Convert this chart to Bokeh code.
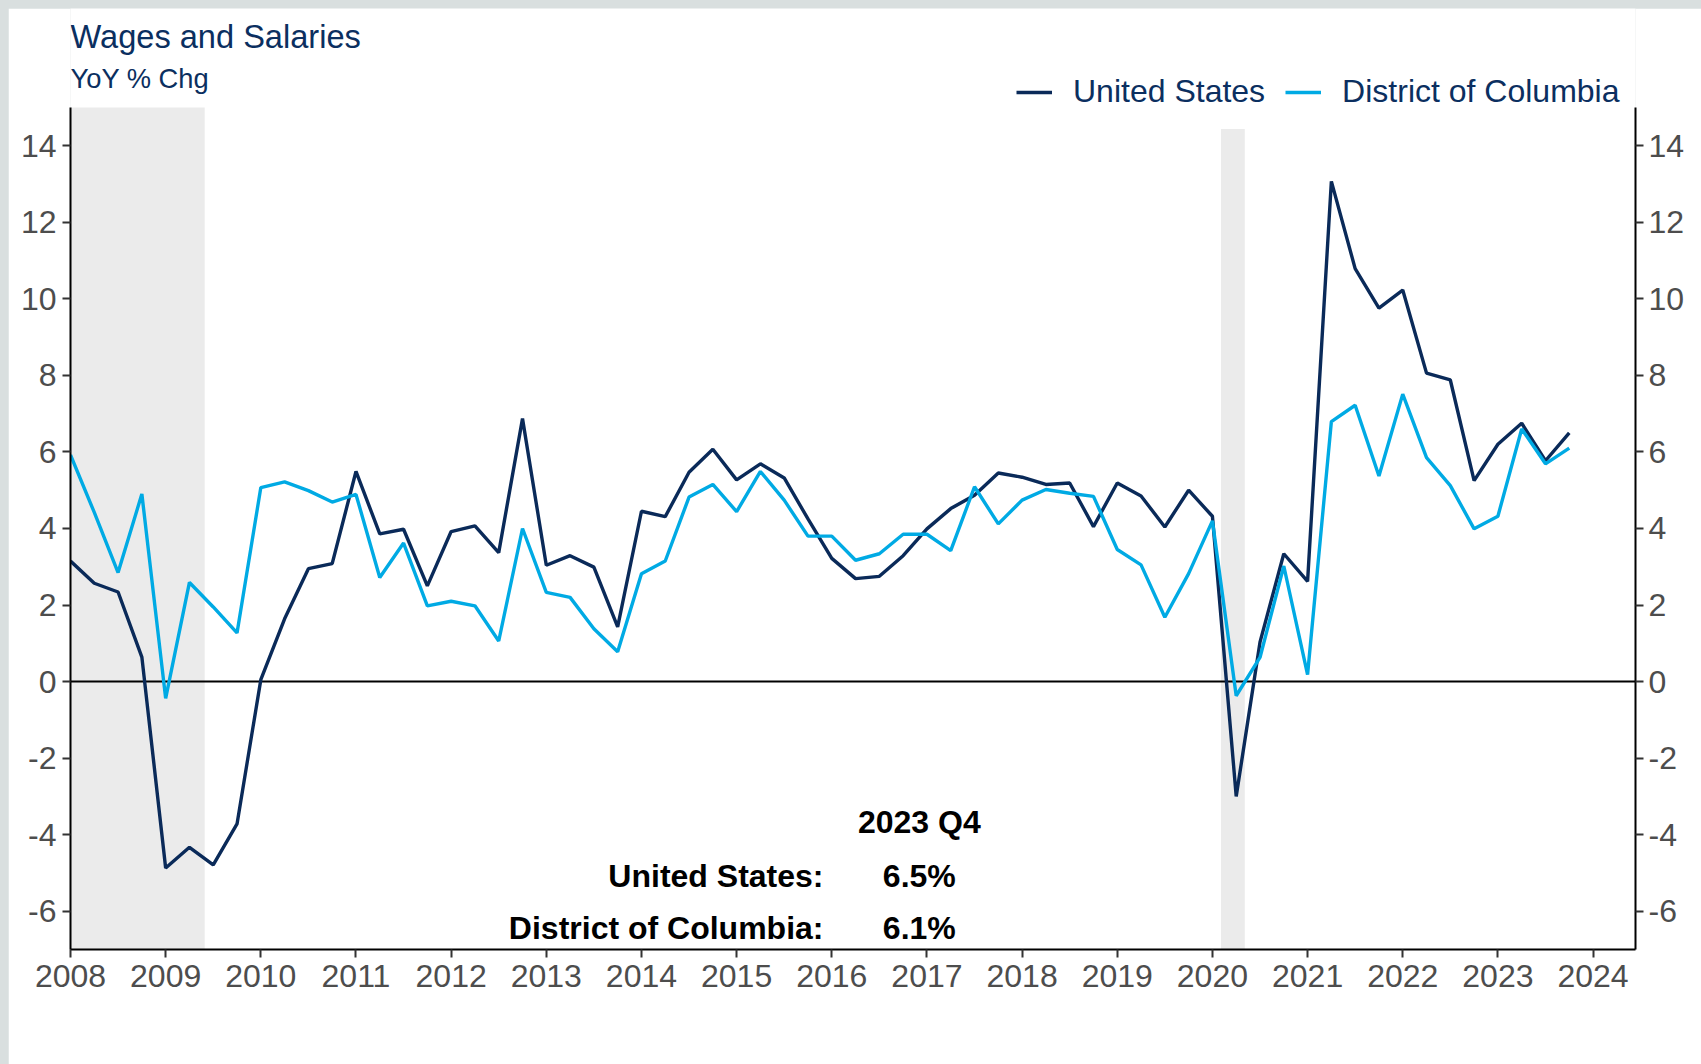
from bokeh.plotting import figure
from bokeh.models import (Range1d, LinearAxis, Label, Legend, LegendItem,
                          FixedTicker)
from bokeh.embed import file_html
from bokeh.resources import INLINE

# ---------------- data ----------------
start_year = 2008
united_states = [
    3.15, 2.57, 2.34, 0.64,
    -4.87, -4.33, -4.79, -3.72,
    0.05, 1.64, 2.95, 3.08,
    5.49, 3.86, 3.98, 2.50,
    3.92, 4.07, 3.37, 6.87,
    3.04, 3.29, 2.99, 1.43,
    4.45, 4.31, 5.47, 6.07,
    5.27, 5.69, 5.32, 4.25,
    3.22, 2.69, 2.75, 3.29,
    3.99, 4.52, 4.87, 5.45,
    5.34, 5.15, 5.19, 4.05,
    5.19, 4.85, 4.04, 5.00,
    4.32, -3.00, 1.03, 3.34,
    2.62, 13.07, 10.79, 9.76,
    10.23, 8.06, 7.88, 5.25,
    6.20, 6.75, 5.77, 6.50,
]
district_of_columbia = [
    5.92, 4.42, 2.85, 4.90,
    -0.44, 2.59, 1.95, 1.27,
    5.07, 5.22, 4.99, 4.69,
    4.89, 2.72, 3.62, 1.98,
    2.10, 1.98, 1.06, 4.00,
    2.33, 2.20, 1.38, 0.78,
    2.82, 3.15, 4.82, 5.15,
    4.44, 5.49, 4.74, 3.80,
    3.80, 3.17, 3.34, 3.85,
    3.85, 3.42, 5.09, 4.12,
    4.74, 5.02, 4.92, 4.84,
    3.45, 3.05, 1.68, 2.82,
    4.20, -0.37, 0.63, 3.02,
    0.18, 6.79, 7.22, 5.37,
    7.51, 5.85, 5.12, 3.99,
    4.32, 6.60, 5.69, 6.10,
]
quarter_x = [start_year + i * 0.25 for i in range(len(united_states))]
latest_label = "2023 Q4"

recession_start = [2007.92, 2020.09]
recession_end = [2009.41, 2020.34]
recession_top = [15.0, 14.44]

x_ticks = list(range(2008, 2025))
y_ticks = list(range(-6, 15, 2))
x_min, x_max = 2008, 2024.446
y_min, y_axis_max = -7, 15
y_canvas_top = 17.586   # headroom above the axis for title and legend

NAVY = "#0b2f60"
US_COLOR = "#0a2a59"
DC_COLOR = "#00aae4"
TICK_TEXT = "#4d4d4d"
FONT = "Liberation Sans"

# ---------------- figure ----------------
p = figure(width=1693, height=1056, output_backend="svg", toolbar_location=None,
           x_range=Range1d(x_min, x_max), y_range=Range1d(y_min, y_canvas_top),
           min_border_left=62, min_border_right=66, min_border_top=0,
           min_border_bottom=115, background_fill_color="white",
           border_fill_color="white", outline_line_color=None)
p.xgrid.visible = False
p.ygrid.visible = False

right_axis = LinearAxis()
p.add_layout(right_axis, "right")

y_labels = {t: str(t) for t in y_ticks}
for ax in [p.xaxis[0], p.yaxis[0], right_axis]:
    ax.axis_line_color = "black"
    ax.axis_line_width = 2
    ax.major_tick_line_color = "#333333"
    ax.major_tick_line_width = 2
    ax.major_tick_out = 8
    ax.major_tick_in = 0
    ax.minor_tick_line_color = None
    ax.major_label_text_font = FONT
    ax.major_label_text_font_size = "32px"
    ax.major_label_text_color = TICK_TEXT

p.xaxis[0].ticker = FixedTicker(ticks=x_ticks)
p.xaxis[0].major_label_overrides = {t: str(t) for t in x_ticks}
for ax in [p.yaxis[0], right_axis]:
    ax.ticker = FixedTicker(ticks=y_ticks)
    ax.major_label_overrides = y_labels
    ax.bounds = (y_min, y_axis_max)
p.xaxis[0].major_label_standoff = 7
p.yaxis[0].major_label_standoff = 6
right_axis.major_label_standoff = 5

# recession shading
p.quad(left=recession_start, right=recession_end, bottom=y_min, top=recession_top,
       fill_color="#ebebeb", line_color=None)

# zero line
p.hspan(y=[0], line_color="black", line_width=2)

r_us = p.line(quarter_x, united_states, line_color=US_COLOR, line_width=3.4)
r_dc = p.line(quarter_x, district_of_columbia, line_color=DC_COLOR, line_width=3.4)

legend = Legend(items=[LegendItem(label="United States", renderers=[r_us]),
                       LegendItem(label="District of Columbia", renderers=[r_dc])],
                location=(946, 839), orientation="horizontal", padding=0, margin=0,
                spacing=20, glyph_width=36, glyph_height=20, label_standoff=21,
                label_text_font=FONT, label_text_font_size="32px",
                label_text_color=NAVY, border_line_color=None,
                background_fill_alpha=0)
p.add_layout(legend)

# titles
p.add_layout(Label(x=2008.0, y=16.85, text="Wages and Salaries", text_font=FONT,
                   text_font_size="32.6px", text_color=NAVY, text_align="left",
                   text_baseline="alphabetic"))
p.add_layout(Label(x=2008.0, y=15.76, text="YoY % Chg", text_font=FONT,
                   text_font_size="27.3px", text_color=NAVY, text_align="left",
                   text_baseline="alphabetic"))

# latest-value annotation
ann = dict(text_font=FONT, text_font_size="32px", text_font_style="bold",
           text_color="black", text_baseline="alphabetic")
p.add_layout(Label(x=2016.92, y=-3.66, text=latest_label, text_align="center", **ann))
p.add_layout(Label(x=2015.913, y=-5.07, text="United States:", text_align="right", **ann))
p.add_layout(Label(x=2016.92, y=-5.07, text=f"{united_states[-1]:.1f}%",
                   text_align="center", **ann))
p.add_layout(Label(x=2015.913, y=-6.43, text="District of Columbia:",
                   text_align="right", **ann))
p.add_layout(Label(x=2016.92, y=-6.43, text=f"{district_of_columbia[-1]:.1f}%",
                   text_align="center", **ann))

html = file_html(p, INLINE)
style = ("<style>html{background-color:#d9dfdf !important;}"
         "body{margin:8px 0 0 8px !important;background-color:#d9dfdf !important;}</style>")
html = html.replace("</head>", style + "</head>", 1)
open("out.html", "w").write(html)
